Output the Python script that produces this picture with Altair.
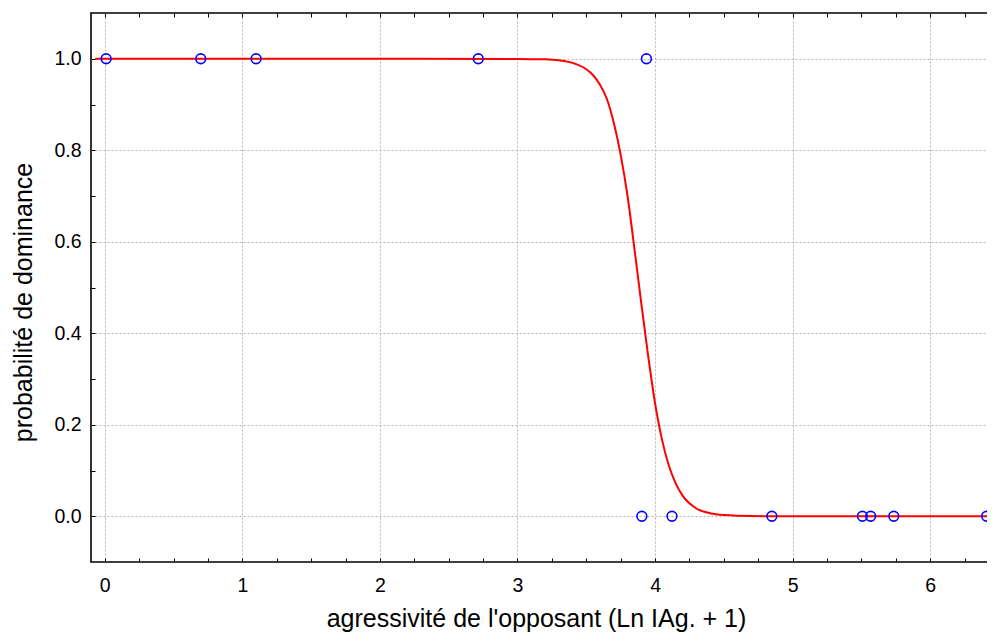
import altair as alt
import pandas as pd

# observed points
point_x = [0.01, 0.698, 1.10, 2.715, 3.937, 3.904, 4.123, 4.849, 5.507, 5.567, 5.735, 6.410]
point_y = [1, 1, 1, 1, 1, 0, 0, 0, 0, 0, 0, 0]

# fitted curve
curve_x = [-0.07, 1.0, 2.0, 3.0, 3.2, 3.3, 3.4, 3.5, 3.55, 3.6, 3.65, 3.7, 3.75, 3.8, 3.85,
           3.9, 3.95, 4.0, 4.05, 4.1, 4.15, 4.2, 4.3, 4.4, 4.5, 4.7, 5.0, 6.45]
curve_y = [1.0, 1.0, 1.0, 0.9997, 0.9987, 0.9966, 0.991, 0.977, 0.964, 0.943, 0.912, 0.86,
           0.79, 0.70, 0.585, 0.465, 0.35, 0.247, 0.168, 0.111, 0.072, 0.045, 0.017, 0.0065,
           0.0025, 0.0004, 0.0, 0.0]

x_ticks = [0.0, 0.25, 0.5, 0.75, 1.0, 1.25, 1.5, 1.75, 2.0, 2.25, 2.5, 2.75, 3.0, 3.25,
           3.5, 3.75, 4.0, 4.25, 4.5, 4.75, 5.0, 5.25, 5.5, 5.75, 6.0, 6.25]
y_ticks = [0.0, 0.1, 0.2, 0.3, 0.4, 0.5, 0.6, 0.7, 0.8, 0.9, 1.0]

x_title = "agressivité de l'opposant (Ln IAg. + 1)"
y_title = "probabilité de dominance"

FONT = "Liberation Sans"
GRID = "#b4b4b4"

pts = pd.DataFrame({"x": point_x, "y": point_y})
crv = pd.DataFrame({"x": curve_x, "y": curve_y})

xscale = alt.Scale(domain=[-0.1, 6.42], nice=False, zero=False)
yscale = alt.Scale(domain=[-0.1, 1.1], nice=False, zero=False)

x_major = "round(datum.value*4) % 4 == 0"
y_major = "round(datum.value*10) % 2 == 0"

x_axis_bottom = alt.Axis(
    values=x_ticks, orient="bottom", offset=-4, tickSize=4, tickColor="black", tickWidth=1,
    domain=False, labelExpr=f"{x_major} ? format(datum.value, 'd') : ''",
    labelFont=FONT, labelFontSize=19.5, labelColor="black", labelPadding=14,
    labelFlush=False, labelOverlap=False, labelBound=False,
    grid=True, gridColor=GRID, gridDash=[2, 2], gridWidth=1,
    gridOpacity={"condition": {"test": x_major, "value": 1}, "value": 0},
    title=x_title, titleFont=FONT, titleFontSize=25, titleFontWeight="normal",
    titleColor="black", titlePadding=12, titleX=445,
)

x_axis_top = alt.Axis(
    values=x_ticks, orient="top", offset=-4, tickSize=4, tickColor="black", tickWidth=1,
    domain=False, labels=False, grid=False, title=None,
)

y_axis = alt.Axis(
    values=y_ticks, orient="left", offset=-4, tickSize=4, tickColor="black", tickWidth=1,
    domain=False, labelExpr=f"{y_major} ? format(datum.value, '.1f') : ''",
    labelFont=FONT, labelFontSize=19.5, labelColor="black", labelPadding=10,
    labelFlush=False, labelOverlap=False, labelBound=False,
    grid=True, gridColor=GRID, gridDash=[2, 2], gridWidth=1,
    gridOpacity={"condition": {"test": y_major, "value": 1}, "value": 0},
    title=y_title, titleFont=FONT, titleFontSize=25, titleFontWeight="normal",
    titleColor="black", titlePadding=17, titleY=289,
)

line = alt.Chart(crv).mark_line(
    color="#ff0000", strokeWidth=2, interpolate="monotone", clip=True
).encode(
    x=alt.X("x:Q", scale=xscale, axis=x_axis_bottom),
    y=alt.Y("y:Q", scale=yscale, axis=y_axis),
    order="x:Q",
)

points = alt.Chart(pts).mark_point(
    shape="circle", filled=False, color="#0000ff", strokeWidth=1.6, size=95, opacity=1
).encode(
    x=alt.X("x:Q", scale=xscale, axis=x_axis_top),
    y=alt.Y("y:Q", scale=yscale, axis=y_axis),
)

chart = alt.layer(line, points).resolve_axis(x="independent").properties(
    width=897, height=549,
    autosize=alt.AutoSizeParams(type="none"),
    padding={"left": 83, "top": 5, "right": -1, "bottom": 72},
    background="white",
).configure_view(stroke="black", strokeWidth=1.6)

chart.save("out.html", embed_options={"renderer": "svg", "actions": False})
